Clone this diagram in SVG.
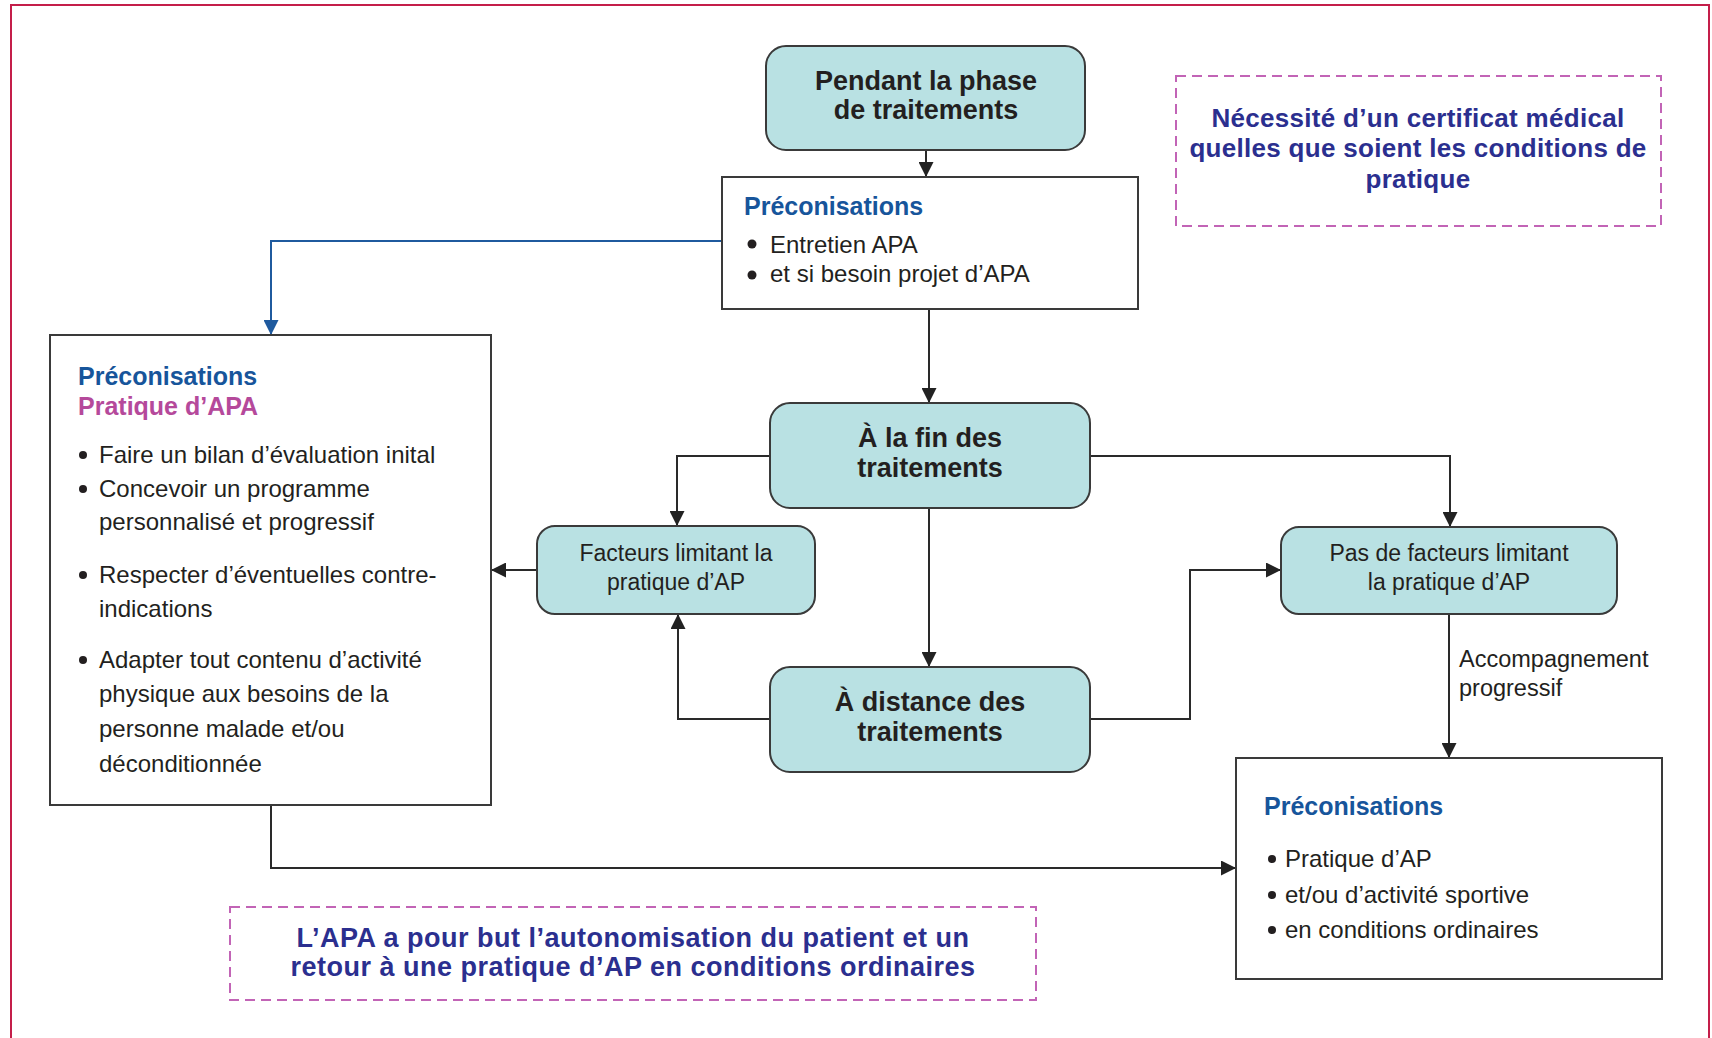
<svg xmlns="http://www.w3.org/2000/svg" width="1712" height="1038" viewBox="0 0 1712 1038">
<defs>
<style>
.node rect.t{fill:#b9e1e3;stroke:#3a3a3a;stroke-width:2}
.node rect.w{fill:#fff;stroke:#3a3a3a;stroke-width:2}
.node rect.d{fill:none;stroke:#c264b6;stroke-width:2;stroke-dasharray:10 6}
.bt{font-family:"Liberation Sans",Arial,sans-serif;font-weight:bold;font-size:27px;fill:#231f20;text-anchor:middle}
.rt{font-family:"Liberation Sans",Arial,sans-serif;font-size:23px;fill:#231f20;text-anchor:middle}
.hd{font-family:"Liberation Sans",Arial,sans-serif;font-weight:bold;font-size:25px;fill:#17559b}
.mg{font-family:"Liberation Sans",Arial,sans-serif;font-weight:bold;font-size:25px;fill:#b5499b}
.li{font-family:"Liberation Sans",Arial,sans-serif;font-size:24px;fill:#231f20}
.lb{font-family:"Liberation Sans",Arial,sans-serif;font-size:23.5px;fill:#231f20}
.nb{font-family:"Liberation Sans",Arial,sans-serif;font-weight:bold;font-size:26px;fill:#2b2f8f;text-anchor:middle;letter-spacing:0.3px}
.nb2{font-family:"Liberation Sans",Arial,sans-serif;font-weight:bold;font-size:27px;fill:#2b2f8f;text-anchor:middle;letter-spacing:0.5px}
.conn path{fill:none;stroke:#2a2a2a;stroke-width:2}
.conn path.blue{stroke:#1f5a9e}
</style>
<marker id="ah" viewBox="0 0 10 10" refX="10" refY="5" markerWidth="15" markerHeight="15" markerUnits="userSpaceOnUse" orient="auto"><path d="M0,0 L10,5 L0,10 z" fill="#222"/></marker>
<marker id="ahb" viewBox="0 0 10 10" refX="10" refY="5" markerWidth="15" markerHeight="15" markerUnits="userSpaceOnUse" orient="auto"><path d="M0,0 L10,5 L0,10 z" fill="#1f5a9e"/></marker>
</defs>
<rect width="1712" height="1038" fill="#fff"/>
<path d="M11,1040 V5 H1709 V1040" fill="none" stroke="#c41e4a" stroke-width="2"/>

<g class="conn" id="connectors">
<path d="M926,150 V177" marker-end="url(#ah)"/>
<path class="blue" d="M722,241 H271 V335" marker-end="url(#ahb)"/>
<path d="M929,309 V403" marker-end="url(#ah)"/>
<path d="M770,456 H677 V526" marker-end="url(#ah)"/>
<path d="M1090,456 H1450 V527" marker-end="url(#ah)"/>
<path d="M929,508 V667" marker-end="url(#ah)"/>
<path d="M537,570 H491" marker-end="url(#ah)"/>
<path d="M770,719 H678 V614" marker-end="url(#ah)"/>
<path d="M1090,719 H1190 V570 H1281" marker-end="url(#ah)"/>
<path d="M1449,614 V758" marker-end="url(#ah)"/>
<path d="M271,805 V868 H1236" marker-end="url(#ah)"/>
<text x="1459" y="667" class="lb">Accompagnement</text>
<text x="1459" y="696" class="lb">progressif</text>
</g>

<g class="node" id="pendant">
<rect class="t" x="766" y="46" width="319" height="104" rx="20"/>
<text class="bt" x="926" y="90">Pendant la phase</text>
<text class="bt" x="926" y="119">de traitements</text>
</g>

<g class="node" id="preco-top">
<rect class="w" x="722" y="177" width="416" height="132"/>
<text class="hd" x="744" y="215">Préconisations</text>
<circle cx="752" cy="244" r="4.5" fill="#231f20"/>
<text class="li" x="770" y="253">Entretien APA</text>
<circle cx="752" cy="275" r="4.5" fill="#231f20"/>
<text class="li" x="770" y="282">et si besoin projet d’APA</text>
</g>

<g class="node" id="certificat">
<rect class="d" x="1176" y="76" width="485" height="150"/>
<text class="nb" x="1418" y="127">Nécessité d’un certificat médical</text>
<text class="nb" x="1418" y="157">quelles que soient les conditions de</text>
<text class="nb" x="1418" y="188">pratique</text>
</g>

<g class="node" id="preco-apa">
<rect class="w" x="50" y="335" width="441" height="470"/>
<text class="hd" x="78" y="385">Préconisations</text>
<text class="mg" x="78" y="415">Pratique d’APA</text>
<g fill="#231f20">
<circle cx="83" cy="455" r="4"/>
<circle cx="83" cy="489" r="4"/>
<circle cx="83" cy="575" r="4"/>
<circle cx="83" cy="660" r="4"/>
</g>
<text class="li" x="99" y="463">Faire un bilan d’évaluation inital</text>
<text class="li" x="99" y="497">Concevoir un programme</text>
<text class="li" x="99" y="530">personnalisé et progressif</text>
<text class="li" x="99" y="583">Respecter d’éventuelles contre-</text>
<text class="li" x="99" y="617">indications</text>
<text class="li" x="99" y="668">Adapter tout contenu d’activité</text>
<text class="li" x="99" y="702">physique aux besoins de la</text>
<text class="li" x="99" y="737">personne malade et/ou</text>
<text class="li" x="99" y="772">déconditionnée</text>
</g>

<g class="node" id="fin">
<rect class="t" x="770" y="403" width="320" height="105" rx="20"/>
<text class="bt" x="930" y="447">À la fin des</text>
<text class="bt" x="930" y="477">traitements</text>
</g>

<g class="node" id="facteurs">
<rect class="t" x="537" y="526" width="278" height="88" rx="18"/>
<text class="rt" x="676" y="561">Facteurs limitant la</text>
<text class="rt" x="676" y="590">pratique d’AP</text>
</g>

<g class="node" id="distance">
<rect class="t" x="770" y="667" width="320" height="105" rx="20"/>
<text class="bt" x="930" y="711">À distance des</text>
<text class="bt" x="930" y="741">traitements</text>
</g>

<g class="node" id="pas-facteurs">
<rect class="t" x="1281" y="527" width="336" height="87" rx="18"/>
<text class="rt" x="1449" y="561">Pas de facteurs limitant</text>
<text class="rt" x="1449" y="590">la pratique d’AP</text>
</g>

<g class="node" id="preco-ordinaires">
<rect class="w" x="1236" y="758" width="426" height="221"/>
<text class="hd" x="1264" y="815">Préconisations</text>
<g fill="#231f20">
<circle cx="1272" cy="859" r="4"/>
<circle cx="1272" cy="895" r="4"/>
<circle cx="1272" cy="930" r="4"/>
</g>
<text class="li" x="1285" y="867">Pratique d’AP</text>
<text class="li" x="1285" y="903">et/ou d’activité sportive</text>
<text class="li" x="1285" y="938">en conditions ordinaires</text>
</g>

<g class="node" id="but-apa">
<rect class="d" x="230" y="907" width="806" height="93"/>
<text class="nb2" x="633" y="947">L’APA a pour but l’autonomisation du patient et un</text>
<text class="nb2" x="633" y="976">retour à une pratique d’AP en conditions ordinaires</text>
</g>
</svg>
